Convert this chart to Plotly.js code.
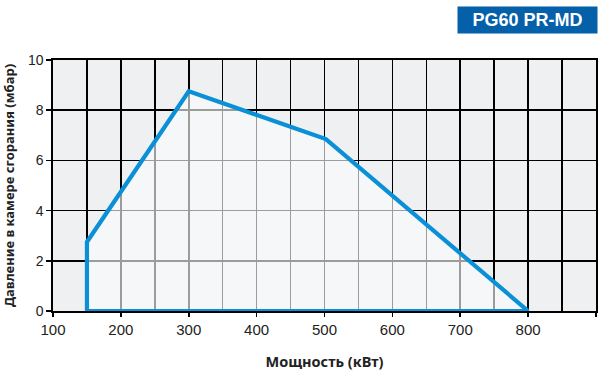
<!DOCTYPE html>
<html>
<head>
<meta charset="utf-8">
<script src="https://cdn.plot.ly/plotly-3.0.1.min.js"></script>
<style>html,body{margin:0;padding:0;background:#fff;}#chart{width:608px;height:374px;}</style>
</head>
<body>
<div id="chart"></div>
<script>
// Working-field boundary of the burner (closed polygon)
const powerKW = [150, 150, 300, 502, 800, 150];
const pressureMbar = [0, 2.75, 8.75, 6.85, 0, 0];
const xTicks = [100, 200, 300, 400, 500, 600, 700, 800, 900];
const yTicks = [0, 2, 4, 6, 8, 10];
const modelLabel = 'PG60 PR-MD';
const xTitle = 'Мощность (кВт)';
const yTitle = 'Давление в камере сгорания (мбар)';

const trace = {
  x: powerKW, y: pressureMbar,
  type: 'scatter', mode: 'lines',
  fill: 'toself', fillcolor: 'rgba(250,251,252,0.62)',
  line: {color: '#0a90d6', width: 4.2, shape: 'linear'},
  hoverinfo: 'skip'
};

const yTickFont = {family: 'Liberation Sans, Arial, sans-serif', size: 14, color: '#222'};
const xTickFont = {family: 'Liberation Sans, Arial, sans-serif', size: 15, color: '#222'};

const layout = {
  width: 608, height: 374,
  margin: {l: 53, r: 12, t: 60, b: 63},
  paper_bgcolor: '#ffffff', plot_bgcolor: '#eff0f2',
  showlegend: false,
  xaxis: {
    range: [100, 900], tickvals: xTicks, ticktext: xTicks.map(String),
    showgrid: true, gridcolor: '#000', gridwidth: 1.6,
    minor: {dtick: 50, tick0: 100, showgrid: true, gridcolor: '#000', gridwidth: 1.6},
    zeroline: false, showline: true, mirror: true, linecolor: '#000', linewidth: 1.6,
    ticks: 'outside', ticklen: 4, tickcolor: '#000', tickwidth: 1.6,
    tickfont: xTickFont, ticklabelstandoff: 0,
    title: {text: xTitle, font: {family: 'Noto Sans, Open Sans, sans-serif', size: 14.5, color: '#222', weight: 'bold'}, standoff: 20}
  },
  yaxis: {
    range: [0, 10], tickvals: yTicks,
    showgrid: true, gridcolor: '#000', gridwidth: 1.6,
    zeroline: false, showline: true, mirror: true, linecolor: '#000', linewidth: 1.6,
    ticks: 'outside', ticklen: 5, tickcolor: '#000', tickwidth: 1.6,
    tickfont: yTickFont,
    title: {text: yTitle, font: {family: 'Noto Sans, Open Sans, sans-serif', size: 13, color: '#222', weight: 'bold'}, standoff: 10}
  },
  annotations: [{
    text: '<b>' + modelLabel + '</b>', xref: 'paper', yref: 'paper',
    x: 1.004, y: 1.159, xanchor: 'right', yanchor: 'middle', showarrow: false,
    font: {family: 'Liberation Sans, Arial, sans-serif', size: 18, color: '#fff'},
    bgcolor: '#0560aa', borderpad: 0, width: 139, height: 26
  }]
};

Plotly.newPlot('chart', [trace], layout, {staticPlot: true, displayModeBar: false});
</script>
</body>
</html>
